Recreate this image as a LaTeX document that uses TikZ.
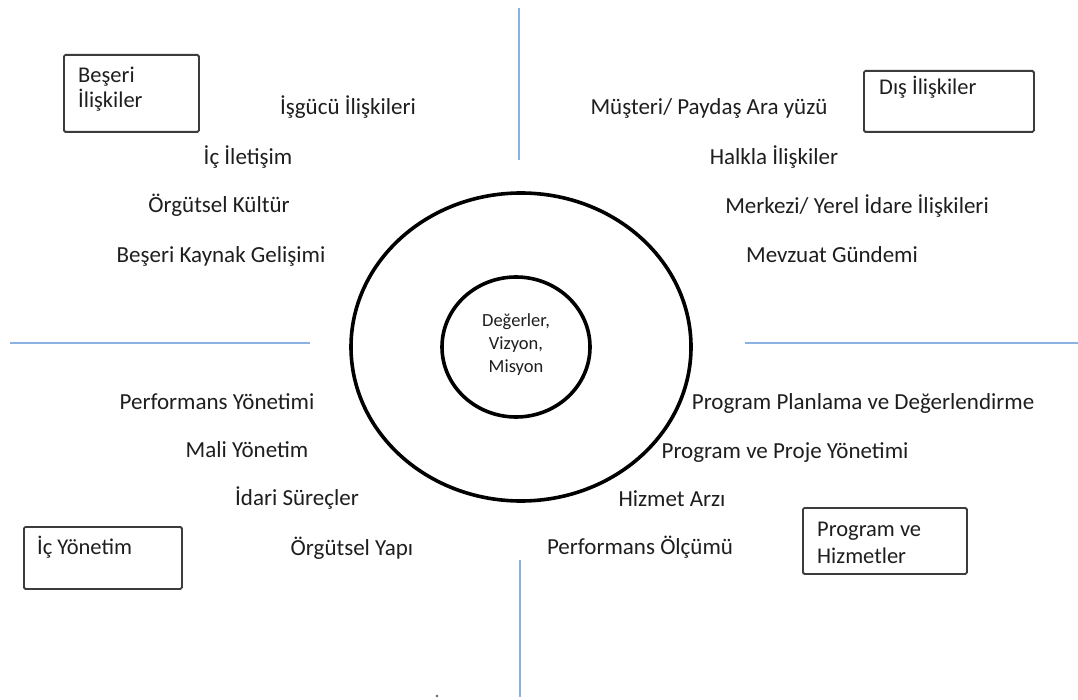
\documentclass[tikz,border=0pt]{standalone}
\usepackage{fontspec}
\setmainfont{Carlito}
\usetikzlibrary{calc,shapes.geometric}
\definecolor{axisblue}{RGB}{140,178,225}
\definecolor{ink}{RGB}{30,30,30}
\definecolor{boxline}{RGB}{60,60,60}
\begin{document}
\begin{tikzpicture}[x=1pt,y=-1pt,
  item/.style={font=\fontsize{23}{27}\selectfont, text=ink, inner sep=0pt, anchor=base},
  boxlbl/.style={font=\fontsize{22.5}{27}\selectfont, text=ink, inner sep=0pt, anchor=base west, align=left},
  catbox/.style={draw=boxline, line width=1.8pt, rounded corners=1.5pt, inner sep=0pt, anchor=north west},
  axis/.style={draw=axisblue, line width=2.6pt},
  ring/.style={draw=black, line width=3.6pt, ellipse, inner sep=0pt}]
\useasboundingbox (0,0) rectangle (1078,700);
\fill[white] (0,0) rectangle (1078,700);

% quadrant dividers
\coordinate (vt1) at (519,8);   \coordinate (vt2) at (519,160);
\coordinate (vb1) at (520,560); \coordinate (vb2) at (520,697);
\coordinate (hl1) at (10,343);  \coordinate (hl2) at (310,343);
\coordinate (hr1) at (745,343); \coordinate (hr2) at (1078,343);
\draw[axis] (vt1) -- (vt2);
\draw[axis] (vb1) -- (vb2);
\draw[axis] (hl1) -- (hl2);
\draw[axis] (hr1) -- (hr2);

% core rings
\node[ring, minimum width=340pt, minimum height=308pt] (outer) at (521,347) {};
\node[ring, minimum width=148pt, minimum height=140pt] (inner) at (516,347) {};
\node[font=\fontsize{18.5}{23}\selectfont, text=ink, align=center, inner sep=0pt] (core) at (516,345) {Değerler,\\Vizyon,\\Misyon};

% category boxes (label baselines refer to the last line)
\node[catbox, minimum width=135pt, minimum height=77pt] (beseri) at (63,54) {};
\node[boxlbl, font=\fontsize{22.5}{25}\selectfont] (beseriT) at (78,108) {Beşeri\\İlişkiler};
\node[catbox, minimum width=170pt, minimum height=61pt] (dis) at (863,70) {};
\node[boxlbl] (disT) at (879,95) {Dış İlişkiler};
\node[catbox, minimum width=158pt, minimum height=62pt] (ic) at (23,526) {};
\node[boxlbl] (icT) at (37,554) {İç Yönetim};
\node[catbox, minimum width=164pt, minimum height=66pt] (prog) at (802,507) {};
\node[boxlbl] (progT) at (817,563) {Program ve\\Hizmetler};

% human relations
\node[item] (h1) at (348,115) {İşgücü İlişkileri};
\node[item] (h2) at (248,165) {İç İletişim};
\node[item] (h3) at (219,213) {Örgütsel Kültür};
\node[item] (h4) at (221,263) {Beşeri Kaynak Gelişimi};

% external relations
\node[item] (e1) at (709,115) {Müşteri/ Paydaş Ara yüzü};
\node[item] (e2) at (774,165) {Halkla İlişkiler};
\node[item] (e3) at (857,214) {Merkezi/ Yerel İdare İlişkileri};
\node[item] (e4) at (832,263) {Mevzuat Gündemi};

% internal management
\node[item] (m1) at (217,409) {Performans Yönetimi};
\node[item] (m2) at (247,457) {Mali Yönetim};
\node[item] (m3) at (297,505) {İdari Süreçler};
\node[item] (m4) at (352,555) {Örgütsel Yapı};

% programs and services
\node[item] (p1) at (863,409) {Program Planlama ve Değerlendirme};
\node[item] (p2) at (785,458) {Program ve Proje Yönetimi};
\node[item] (p3) at (672,506) {Hizmet Arzı};
\node[item] (p4) at (640,554) {Performans Ölçümü};

% stray mark near the bottom edge
\fill[ink!70] (437,696) circle (1.4pt);
\end{tikzpicture}
\end{document}
